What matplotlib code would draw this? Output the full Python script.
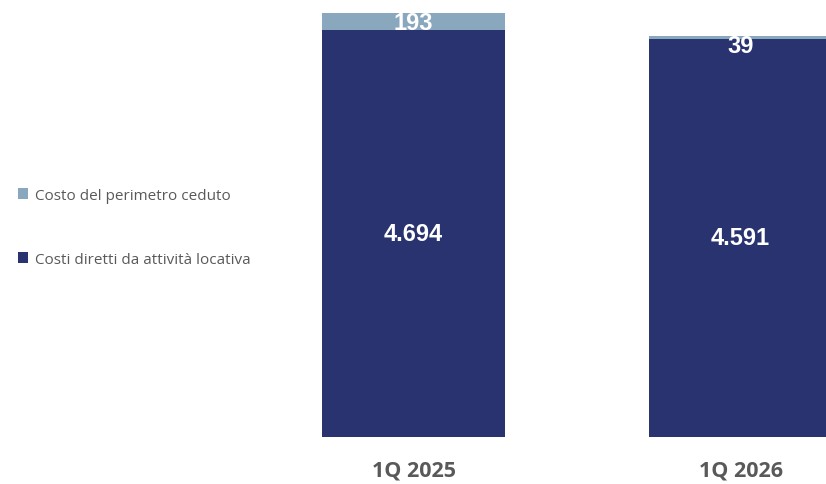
import matplotlib.pyplot as plt
import numpy as np

# dati
periodi = ["1Q 2025", "1Q 2026"]
costi_diretti = [4694, 4591]
perimetro_ceduto = [193, 39]
etichette_diretti = ["4.694", "4.591"]
etichette_ceduto = ["193", "39"]
serie = ["Costi diretti da attività locativa", "Costo del perimetro ceduto"]

blu = "#283370"
azzurro = "#89A8BE"
grigio = "#595959"

plt.rcParams["font.family"] = ["Liberation Sans", "DejaVu Sans"]

fig = plt.figure(figsize=(8.26, 4.85), dpi=100)
ax = fig.add_axes([322 / 826, 47 / 485, (826 - 322) / 826, 438 / 485])

x = np.arange(len(periodi))
w = 0.56
b1 = ax.bar(x, costi_diretti, w, color=blu, label=serie[0])
b2 = ax.bar(x, perimetro_ceduto, w, bottom=costi_diretti, color=azzurro, label=serie[1])

ax.set_xlim(-w / 2, -w / 2 + (826 - 322) / 327)
ax.set_ylim(0, 5052)
ax.axis("off")

for i in range(len(x)):
    ax.text(x[i], costi_diretti[i] / 2, etichette_diretti[i], ha="center", va="center",
            color="white", fontsize=17, fontweight="bold")
    ax.annotate(etichette_ceduto[i], (x[i], costi_diretti[i] + perimetro_ceduto[i]),
                xytext=(0, 1.5), textcoords="offset points", ha="center", va="top",
                color="white", fontsize=17, fontweight="bold")

# etichette categorie sotto le barre
for i, p in enumerate(periodi):
    ax.annotate(p, (x[i], 0), xytext=(0, -28), textcoords="offset points", ha="center",
                va="baseline", color=grigio, fontsize=15.5, fontweight="bold", family="Open Sans")

leg = fig.legend(handles=[b2, b1], labels=[serie[1], serie[0]], loc="upper left",
                 bbox_to_anchor=(4 / 826, 1 - 175 / 485), frameon=False,
                 handlelength=0.7, handleheight=0.7, handletextpad=0.4, labelspacing=3.2,
                 labelcolor=grigio, prop={"family": "Open Sans", "size": 11})

fig.savefig("out.png", dpi=100)
